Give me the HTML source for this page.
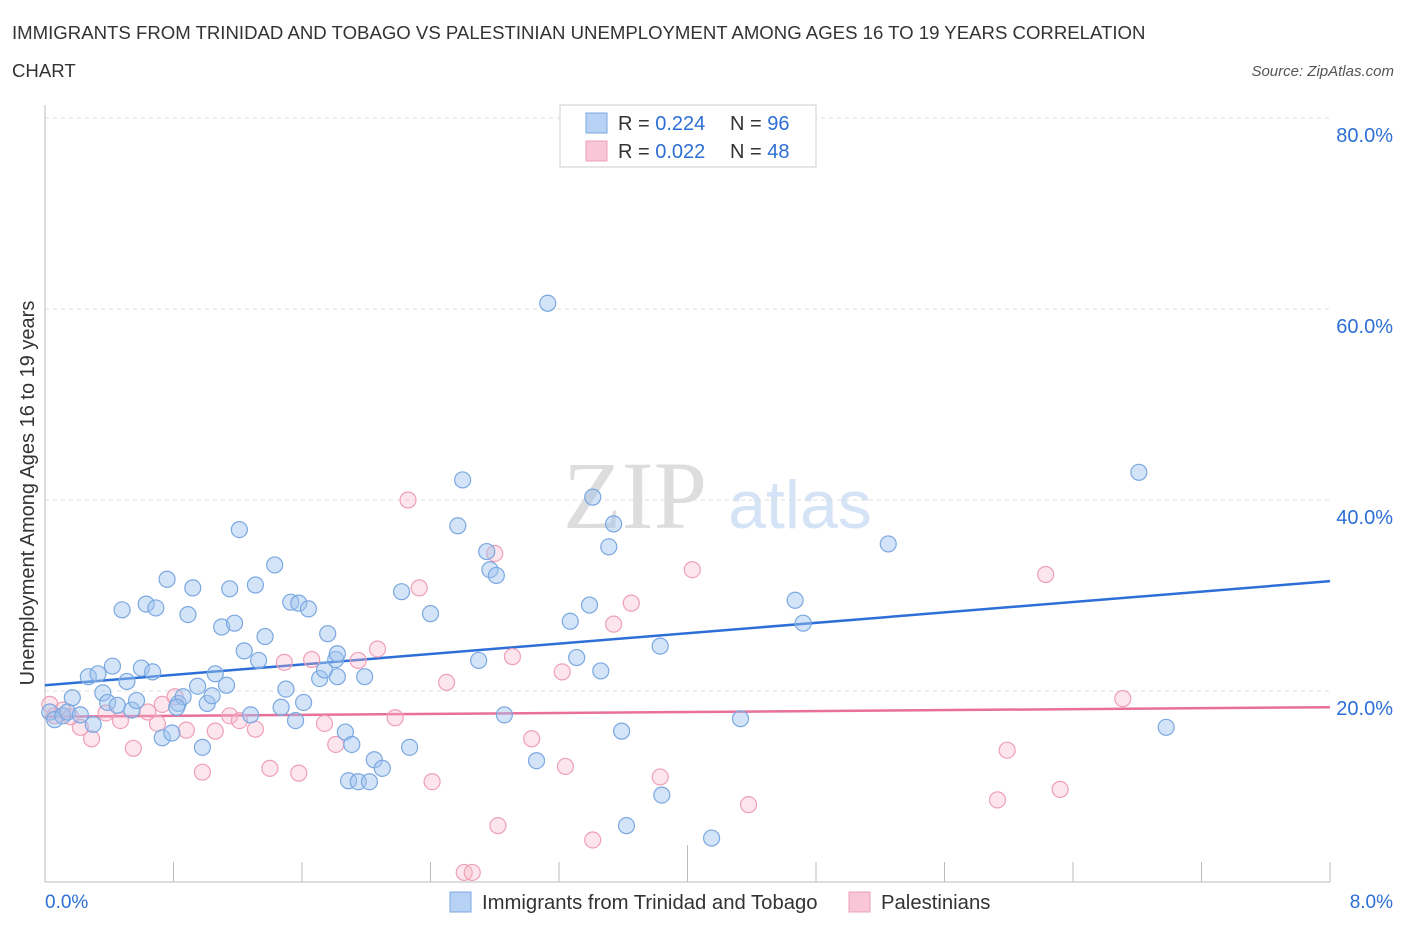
<!DOCTYPE html>
<html><head><meta charset="utf-8"><style>
body{margin:0;background:#fff;font-family:"Liberation Sans",sans-serif;}
svg{display:block}
</style></head><body>
<svg id="chart" width="1406" height="930">
<text x="12" y="39" font-size="18.6" fill="#333">IMMIGRANTS FROM TRINIDAD AND TOBAGO VS PALESTINIAN UNEMPLOYMENT AMONG AGES 16 TO 19 YEARS CORRELATION</text>
<text x="12" y="77" font-size="18.6" fill="#333">CHART</text>
<text x="1394" y="76" font-size="15" fill="#555" font-style="italic" text-anchor="end">Source: ZipAtlas.com</text>
<text x="635" y="528" font-size="96" fill="#ddd" font-family="Liberation Serif,serif" text-anchor="middle">ZIP</text>
<text x="800" y="528" font-size="68" fill="#d4e3f5" text-anchor="middle">atlas</text>
<text x="34" y="493" font-size="20" fill="#333" text-anchor="middle" transform="rotate(-90 34 493)">Unemployment Among Ages 16 to 19 years</text>
<g id="grid"></g><g id="axes"></g><g id="trend"></g><g id="pts"></g>
<g>
<rect x="560" y="105" width="256" height="62" fill="#fff" stroke="#ccc"/>
<rect x="586" y="113" width="21" height="20" fill="#b8d2f5" stroke="#7aa8e0"/>
<rect x="586" y="141" width="21" height="20" fill="#f8c6d6" stroke="#eea0b8"/>
<text x="618" y="130" font-size="20" fill="#333">R = <tspan fill="#2d6fd6">0.224</tspan></text>
<text x="730" y="130" font-size="20" fill="#333">N = <tspan fill="#2d6fd6">96</tspan></text>
<text x="618" y="158" font-size="20" fill="#333">R = <tspan fill="#2d6fd6">0.022</tspan></text>
<text x="730" y="158" font-size="20" fill="#333">N = <tspan fill="#2d6fd6">48</tspan></text>
</g>
<g>
<rect x="450" y="892" width="21" height="20" fill="#b8d2f5" stroke="#7aa8e0"/>
<text x="482" y="909" font-size="20.3" fill="#333">Immigrants from Trinidad and Tobago</text>
<rect x="849" y="892" width="21" height="20" fill="#f8c6d6" stroke="#eea0b8"/>
<text x="881" y="909" font-size="20.3" fill="#333">Palestinians</text>
</g>
</svg>
<script>
const blueX=[0.03,0.06,0.11,0.14,0.17,0.22,0.27,0.30,0.33,0.36,0.39,0.42,0.45,0.48,0.51,0.54,0.57,0.60,0.63,0.67,0.69,0.73,0.76,0.79,0.83,0.86,0.89,0.92,0.95,0.98,1.01,1.04,1.06,1.10,1.13,1.15,1.18,1.21,1.24,1.28,1.31,1.33,1.37,1.43,1.47,1.50,1.53,1.56,1.58,1.61,1.64,1.71,1.74,1.76,1.81,1.82,1.82,1.87,1.89,1.91,1.95,1.99,2.02,2.05,2.10,2.22,2.27,2.40,2.57,2.60,2.70,2.75,2.77,2.81,2.86,3.06,3.13,3.27,3.31,3.39,3.41,3.46,3.51,3.54,3.59,3.62,3.83,3.84,4.15,4.33,4.67,4.72,5.25,6.81,6.98,0.82];
const blueY=[17.8,17.0,17.4,17.8,19.3,17.5,21.5,16.5,21.8,19.8,18.8,22.6,18.5,28.5,21.0,18.0,19.0,22.4,29.1,22.0,28.7,15.1,31.7,15.6,18.7,19.4,28.0,30.8,20.5,14.1,18.7,19.5,21.8,26.7,20.6,30.7,27.1,36.9,24.2,17.5,31.1,23.2,25.7,33.2,18.3,20.2,29.3,16.9,29.2,18.8,28.6,21.3,22.2,26.0,23.3,23.9,21.5,15.7,10.6,14.4,10.5,21.5,10.5,12.8,11.9,30.4,14.1,28.1,37.3,42.1,23.2,34.6,32.7,32.1,17.5,12.7,60.6,27.3,23.5,29.0,40.3,22.1,35.1,37.5,15.8,5.9,24.7,9.1,4.6,17.1,29.5,27.1,35.4,42.9,16.2,18.3];
const pinkX=[0.03,0.06,0.11,0.16,0.22,0.29,0.38,0.47,0.55,0.64,0.70,0.73,0.81,0.88,0.98,1.06,1.15,1.21,1.31,1.40,1.49,1.58,1.66,1.74,1.81,1.95,2.07,2.18,2.26,2.33,2.41,2.50,2.61,2.66,2.80,2.82,2.91,3.03,3.22,3.24,3.41,3.54,3.65,3.83,4.03,4.38,5.93,5.99,6.23,6.32,6.71];
const pinkY=[18.6,17.4,18.0,17.3,16.2,15.0,17.7,16.9,14.0,17.8,16.6,18.6,19.4,15.9,11.5,15.8,17.4,16.9,16.0,11.9,23.0,11.4,23.3,16.6,14.4,23.2,24.4,17.2,40.0,30.8,10.5,20.9,1.0,1.0,34.4,5.9,23.6,15.0,22.0,12.1,4.4,27.0,29.2,11.0,32.7,8.1,8.6,13.8,32.2,9.7,19.2];
const blueTrend=[20.6,31.5];
const pinkTrend=[17.3,18.3];
const yTicks=[20,40,60,80];
const yTickLabels=["20.0%","40.0%","60.0%","80.0%"];
const xTicks=[0,0.8,1.6,2.4,3.2,4.0,4.8,5.6,6.4,7.2,8.0];
const xEndLabels=["0.0%","8.0%"];
const NS="http://www.w3.org/2000/svg";
const X=v=>45+v/8*1285, Y=v=>882-v*9.55;
function mk(p,t,a){const e=document.createElementNS(NS,t);for(const k in a)e.setAttribute(k,a[k]);document.getElementById(p).appendChild(e);return e;}
yTicks.forEach((t,i)=>{
 const l=mk('grid','line',{x1:45,x2:1330,y1:Y(t),y2:Y(t),stroke:'#ddd','stroke-dasharray':'4,4'});
 
 
 const tx=mk('grid','text',{x:1393,y:Y(t)+24,'font-size':20,fill:'#2d6fd6','text-anchor':'end'});
 tx.textContent=yTickLabels[i];
 
 
});
const ax=mk('axes','line',{x1:45,x2:45,y1:105,y2:882,stroke:'#bbb'});


const bx=mk('axes','line',{x1:45,x2:1330,y1:882,y2:882,stroke:'#bbb'});


xTicks.forEach(t=>{
 const l=mk('axes','line',{x1:X(t),x2:X(t),y1:(t===4.0?845:862),y2:882,stroke:'#bbb'});
 
 
});
[[0,'start',45],[8,'end',1393]].forEach((d,i)=>{
 const tx=mk('axes','text',{x:d[2],y:908,'font-size':19,fill:'#2d6fd6','text-anchor':d[1]});
 tx.textContent=xEndLabels[i];
 
 
});
function pts(xs,ys,fill,stroke,name){xs.forEach((x,i)=>{
 const c=mk('pts','circle',{cx:X(x),cy:Y(ys[i]),r:8,fill:fill,stroke:stroke,'stroke-width':1.2});
 
 
});}
pts(pinkX,pinkY,'rgba(245,180,200,0.35)','#eea0b8','palestinian-point');
pts(blueX,blueY,'rgba(160,196,240,0.45)','#7aa8e0','trinidad-point');
const bt=mk('trend','line',{x1:X(0),x2:X(8),y1:Y(blueTrend[0]),y2:Y(blueTrend[1]),stroke:'#2d6fd6','stroke-width':2.5});


const pt=mk('trend','line',{x1:X(0),x2:X(8),y1:Y(pinkTrend[0]),y2:Y(pinkTrend[1]),stroke:'#e8709a','stroke-width':2.5});


</script>
</body></html>
